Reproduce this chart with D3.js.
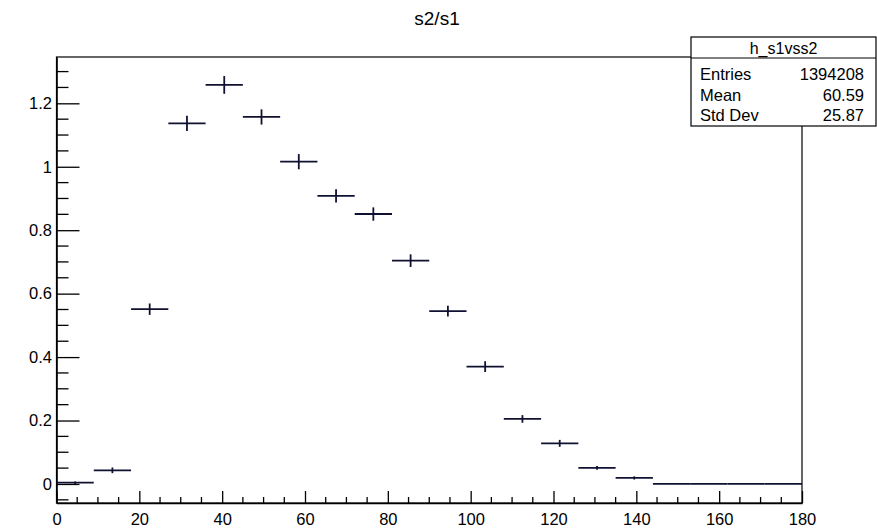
<!DOCTYPE html>
<html>
<head>
<meta charset="utf-8">
<script src="https://cdn.jsdelivr.net/npm/d3@7"></script>
<style>
  body { margin: 0; background: #fff; }
  text { font-family: "Liberation Sans", Arial, sans-serif; fill: #000; }
</style>
</head>
<body>
<div id="chart"></div>
<script>
// histogram h_s1vss2: 20 bins of width 9 from 0 to 180
var binEdges = d3.range(0, 181, 9);
var binValues = [0.004, 0.043, 0.551, 1.137, 1.258, 1.157, 1.016, 0.908, 0.851, 0.704,
                 0.545, 0.370, 0.205, 0.128, 0.051, 0.019, 0, 0, 0, 0];
var binErrors = [0.004, 0.009, 0.018, 0.024, 0.028, 0.024, 0.024, 0.021, 0.021, 0.020,
                 0.017, 0.017, 0.012, 0.011, 0.006, 0.005, 0, 0, 0, 0];
var xTicks = [0, 20, 40, 60, 80, 100, 120, 140, 160, 180];
var yTicks = [0, 0.2, 0.4, 0.6, 0.8, 1, 1.2];
var statsLabels = ["Entries", "Mean", "Std Dev"];
var statsValues = ["1394208", "60.59", "25.87"];

var W = 877, H = 530;
var margin = { top: 57, right: 75, bottom: 27, left: 56.5 },
    width = W - margin.left - margin.right,
    height = H - margin.top - margin.bottom;

var svg = d3.select("#chart")
    .append("svg")
    .attr("width", W)
    .attr("height", H);

var g = svg.append("g")
    .attr("transform", "translate(" + margin.left + "," + margin.top + ")");

var x = d3.scaleLinear().domain([0, 180]).range([0, width]);
var y = d3.scaleLinear().domain([-0.06, 1.346]).range([height, 0]);

// frame
g.append("rect")
    .attr("width", width)
    .attr("height", height)
    .attr("fill", "none")
    .attr("stroke", "#000")
    .attr("stroke-width", 1.2);

// minor ticks
var xMinor = d3.range(0, 181, 5).filter(function(d) { return d % 20 !== 0; });
g.selectAll(".xminor")
    .data(xMinor)
    .enter().append("line")
    .attr("x1", function(d) { return x(d); })
    .attr("x2", function(d) { return x(d); })
    .attr("y1", height)
    .attr("y2", height - 6)
    .attr("stroke", "#000")
    .attr("stroke-width", 1.3);

var yMinor = d3.range(-0.05, 1.34, 0.05).filter(function(d) {
    return Math.abs(Math.round(d * 20) % 4) !== 0;
});
g.selectAll(".yminor")
    .data(yMinor)
    .enter().append("line")
    .attr("x1", 0)
    .attr("x2", 12)
    .attr("y1", function(d) { return y(d); })
    .attr("y2", function(d) { return y(d); })
    .attr("stroke", "#000")
    .attr("stroke-width", 1.3);

// axes
var xAxis = g.append("g")
    .attr("transform", "translate(0," + height + ")")
    .call(d3.axisBottom(x).tickValues(xTicks).tickSize(-12).tickPadding(17).tickSizeOuter(0));

var yAxis = g.append("g")
    .call(d3.axisLeft(y).tickValues(yTicks).tickFormat(d3.format("~g"))
        .tickSize(-23).tickPadding(5).tickSizeOuter(0));

[xAxis, yAxis].forEach(function(a) {
    a.select(".domain").attr("stroke", "#000").attr("stroke-width", 1.6);
    a.selectAll(".tick line").attr("stroke", "#000").attr("stroke-width", 1.3);
    a.selectAll(".tick text")
        .attr("font-size", 16.5)
        .attr("fill", "#222")
        .style("font-family", "'Liberation Sans', Arial, sans-serif");
});
xAxis.selectAll(".tick text").attr("dy", "0.3em");
yAxis.selectAll(".tick text").attr("x", -4.5);

// histogram points with errors
var bins = binValues.map(function(v, i) {
    return { lo: binEdges[i], hi: binEdges[i + 1], v: v, e: binErrors[i] };
});
var lineColor = "#101030";

g.selectAll(".hbar")
    .data(bins)
    .enter().append("line")
    .attr("x1", function(d) { return x(d.lo); })
    .attr("x2", function(d) { return x(d.hi); })
    .attr("y1", function(d) { return y(d.v); })
    .attr("y2", function(d) { return y(d.v); })
    .attr("stroke", lineColor)
    .attr("stroke-width", 1.8);

g.selectAll(".ebar")
    .data(bins.filter(function(d) { return d.e > 0; }))
    .enter().append("line")
    .attr("x1", function(d) { return x((d.lo + d.hi) / 2); })
    .attr("x2", function(d) { return x((d.lo + d.hi) / 2); })
    .attr("y1", function(d) { return y(d.v - d.e); })
    .attr("y2", function(d) { return y(d.v + d.e); })
    .attr("stroke", lineColor)
    .attr("stroke-width", 1.8);

// title
svg.append("text")
    .attr("x", 437)
    .attr("y", 25)
    .attr("text-anchor", "middle")
    .attr("font-size", 19)
    .attr("fill", "#222")
    .text("s2/s1");

// stats box
var sb = svg.append("g").attr("transform", "translate(691,37)");
sb.append("rect")
    .attr("width", 185)
    .attr("height", 89)
    .attr("fill", "#fff")
    .attr("stroke", "#000")
    .attr("stroke-width", 1.2);
sb.append("line")
    .attr("x1", 0).attr("x2", 185)
    .attr("y1", 21).attr("y2", 21)
    .attr("stroke", "#000")
    .attr("stroke-width", 1.2);
sb.append("text")
    .attr("x", 92.5)
    .attr("y", 17)
    .attr("text-anchor", "middle")
    .attr("font-size", 16)
    .attr("fill", "#222")
    .text("h_s1vss2");
sb.selectAll(".slab")
    .data(statsLabels)
    .enter().append("text")
    .attr("x", 9)
    .attr("y", function(d, i) { return 43 + i * 20.5; })
    .attr("font-size", 16.5)
    .attr("fill", "#222")
    .text(function(d) { return d; });
sb.selectAll(".sval")
    .data(statsValues)
    .enter().append("text")
    .attr("x", 173)
    .attr("y", function(d, i) { return 43 + i * 20.5; })
    .attr("text-anchor", "end")
    .attr("font-size", 16.5)
    .attr("fill", "#222")
    .text(function(d) { return d; });
</script>
</body>
</html>
